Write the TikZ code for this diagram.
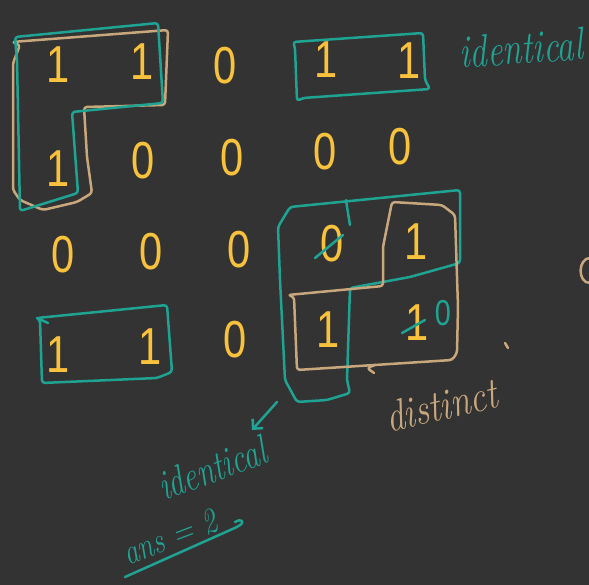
\documentclass[tikz,border=0pt]{standalone}
\usepackage{fontspec}
\newfontfamily\digfont{Liberation Sans}
\usetikzlibrary{arrows.meta}
\definecolor{bg}{HTML}{333333}
\definecolor{yel}{HTML}{F9C23C}
\definecolor{myteal}{HTML}{1FA393}
\definecolor{mytan}{HTML}{C9A77C}
\newcommand\dg[1]{\scalebox{0.8}[1]{#1}}
\newcommand\wrd[2]{\scalebox{#1}[1]{#2}}
\begin{document}
\begin{tikzpicture}[x=1pt,y=-1pt,line join=round,line cap=round,
  dig/.style={text=yel,font=\digfont\fontsize{52}{52}\selectfont,inner sep=0pt},
  tl/.style={draw=myteal,line width=2.5pt,rounded corners=3pt},
  tn/.style={draw=mytan,line width=2.5pt,rounded corners=3pt},
  word/.style={font=\itshape\fontsize{#1}{#1}\selectfont,inner sep=0pt}]
\fill[bg] (0,0) rectangle (589,585);
\useasboundingbox (0,0) rectangle (589,585);
% digits
\node[dig] (a11) at (58,65) {\dg{1}};
\node[dig] (a12) at (142,62) {\dg{1}};
\node[dig] (a13) at (225,66) {\dg{0}};
\node[dig] (a14) at (326,60) {\dg{1}};
\node[dig] (a15) at (409,61) {\dg{1}};
\node[dig] (a21) at (58,169) {\dg{1}};
\node[dig] (a22) at (143,161) {\dg{0}};
\node[dig] (a23) at (232,158) {\dg{0}};
\node[dig] (a24) at (325,152) {\dg{0}};
\node[dig] (a25) at (400,147) {\dg{0}};
\node[dig] (a31) at (63,255) {\dg{0}};
\node[dig] (a32) at (151,252) {\dg{0}};
\node[dig] (a33) at (239,250) {\dg{0}};
\node[dig] (a34) at (332,244) {\dg{0}};
\node[dig] (a35) at (416,242) {\dg{1}};
\node[dig] (a41) at (58,355) {\dg{1}};
\node[dig] (a42) at (150,347) {\dg{1}};
\node[dig] (a43) at (235,340) {\dg{0}};
\node[dig] (a44) at (328,330) {\dg{1}};
\node[dig] (a45) at (417,323) {\dg{1}};
\node[dig,text=myteal,font=\digfont\fontsize{36}{36}\selectfont] (t0) at (443,313) {\dg{0}};
% top-left L shapes
\draw[tn] (12,42) -- (168,30) -- (165,105) -- (84,107) -- (87,157) -- (92,193) -- (77,202) -- (43,210) -- (20,200) -- (13,190) -- (13,63) -- (20,45) -- cycle;
\draw[tl] (15,37) -- (158,23) -- (163,103) -- (72,112) -- (78,193) -- (20,211) -- (17,60) -- cycle;
% top-right rectangle
\draw[tl] (293,42) -- (423,33) -- (425,80) -- (430,89) -- (303,98) -- (297,101) -- (295,48) -- cycle;
% bottom-right shapes
\draw[tl] (290,207) -- (460,190) -- (460,263) -- (410,277) -- (350,288) -- (347,380) -- (350,393) -- (327,400) -- (297,402) -- (285,380) -- (280,280) -- (278,227) -- cycle;
\draw[tl] (346,200) -- (348,213) -- (350,225);
\draw[tn] (392,202) -- (442,205) -- (455,215) -- (458,307) -- (457,353) -- (452,360) -- (297,370) -- (294,297) -- (288,295) -- (383,286) -- (383,247) -- cycle;
\draw[tn] (375,365) -- (367,368) -- (374,373);
\draw[tl] (315,258) -- (343,235);
\draw[tl] (402,333) -- (425,320);
% row 4 rectangle
\draw[tl] (37,318) -- (167,305) -- (172,372) -- (157,378) -- (42,383) -- (40,320) -- cycle;
\draw[tl] (37,318) -- (48,323);
% partial digit at right edge and dot
\draw[tn] (590,258) .. controls (578,258) and (577,283) .. (590,283);
\draw[tn] (505,343) -- (508,348);
% words
\node[word=46,text=myteal,rotate=4] (id1) at (521,48) {\wrd{0.75}{identical}};
\node[word=44,text=mytan,rotate=13] (dist) at (441,405) {\wrd{0.82}{distinct}};
\node[word=42,text=myteal,rotate=20] (id2) at (212,468) {\wrd{0.75}{identical}};
\node[word=36,text=myteal,rotate=21] (ans) at (170,537) {\wrd{0.8}{ans = 2}};
\draw[tl] (125,577) -- (237,527) .. controls (245,522) and (242,518) .. (235,522);
% arrow
\coordinate (arrS) at (277,402);
\coordinate (arrE) at (252,430);
\draw[tl,-{Straight Barb[length=7pt,width=14pt]}] (arrS) -- (arrE);
\end{tikzpicture}
\end{document}
